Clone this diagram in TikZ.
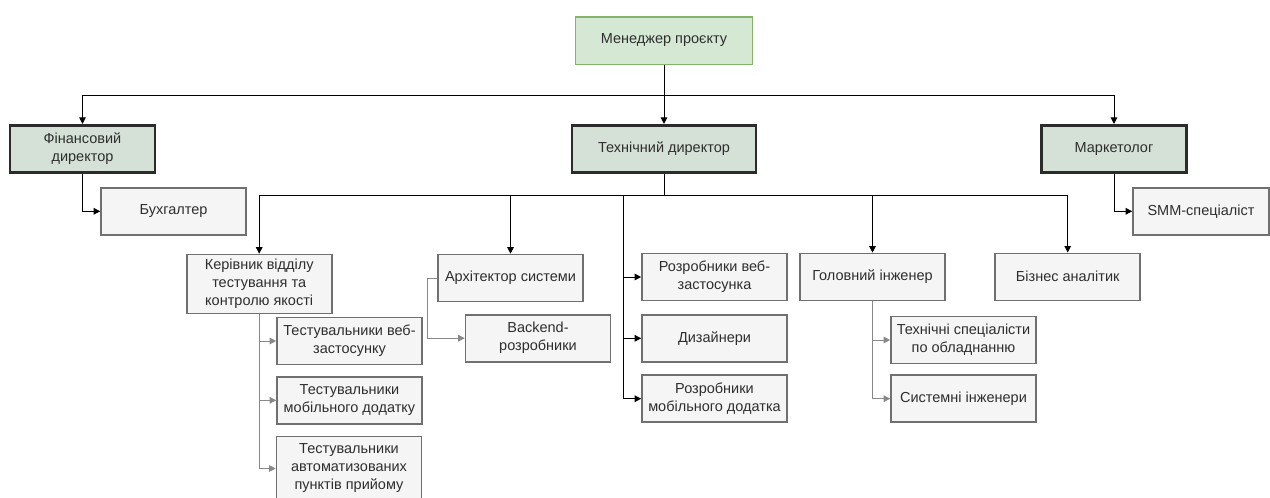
\documentclass[tikz,border=0pt]{standalone}
\usepackage{fontspec}
\setmainfont{Liberation Sans}
\usepackage{xcolor}
\usetikzlibrary{arrows.meta, positioning, calc}

\definecolor{pmfill}{HTML}{D5E8D4}
\definecolor{pmline}{HTML}{82B366}
\definecolor{chieffill}{HTML}{D5E0D6}
\definecolor{chiefline}{HTML}{2B2B2B}
\definecolor{stafffill}{HTML}{F5F5F5}
\definecolor{staffline}{HTML}{707070}
\definecolor{txt}{HTML}{2E2E2E}
\definecolor{subgray}{HTML}{888888}

\begin{document}
\begin{tikzpicture}[x=1pt, y=-1pt, >={Triangle[length=6.5pt, width=6.5pt]},
    font=\fontsize{14.5}{18}\selectfont, text=txt,
    pmbox/.style={draw=pmline, fill=pmfill, line width=1.5pt, minimum width=177pt, minimum height=47.5pt, inner sep=0pt, align=center},
    chief/.style={draw=chiefline, fill=chieffill, line width=2.6pt, minimum width=145pt, minimum height=47.5pt, inner sep=0pt, align=center},
    staff/.style={draw=staffline, fill=stafffill, line width=1.6pt, minimum width=145pt, minimum height=47pt, inner sep=0pt, align=center},
    link/.style={black, line width=1pt},
    sublink/.style={subgray, line width=1pt}]
      \useasboundingbox (0, 0) rectangle (1270, 498);

      % PROJECT MANAGER
      \node[pmbox] (pm) at (664, 40.5) {Менеджер проєкту};
      \coordinate (top) at (664, 95.3);

      % DIRECTORS
      \node[chief] (fin) at (82.5, 149) {Фінансовий\\директор};
      \node[chief, minimum width=184pt] (tech) at (664, 149) {Технічний директор};
      \node[chief] (mkt) at (1114, 149) {Маркетолог};

      \draw[link] (pm.south) -- (top);
      \draw[link, ->] (top) -| (fin.north);
      \draw[link, ->] (top) -- (tech.north);
      \draw[link, ->] (top) -| (mkt.north);

      % Finance.
      \node[staff] (acc) at (173.5, 211.3) {Бухгалтер};
      \draw[link, ->] (fin.south) |- (acc.west);

      % Marketing.
      \node[staff, minimum width=136pt] (smm) at (1201, 211.3) {SMM-спеціаліст};
      \draw[link, ->] (mkt.south) |- (smm.west);

      % TECHNICAL DEPARTMENT
      \coordinate (mid) at (664, 195);
      \coordinate (dev) at (623.7, 398.5);
      \draw[link] (tech.south) -- (mid);

      % Quality control.
      \node[staff, minimum height=59pt] (qa) at (259.2, 284) {Керівник відділу\\тестування та\\контролю якості};
      \node[staff] (qaweb) at (349.5, 341) {Тестувальники веб-\\застосунку};
      \node[staff] (qamob) at (349.5, 400.3) {Тестувальники\\мобільного додатку};
      \node[staff, minimum height=64pt] (qaauto) at (349, 468.5) {Тестувальники\\автоматизованих\\пунктів прийому};
      \draw[link, ->] (mid) -| (qa.north);
      \draw[sublink, ->] (qa.south) |- (qaweb.west);
      \draw[sublink, ->] (qa.south) |- (qamob.west);
      \draw[sublink, ->] (qa.south) |- (qaauto.west);

      % Architecture.
      \node[staff] (arch) at (510.5, 278) {Архітектор системи};
      \node[staff] (back) at (538, 338.2) {Backend-\\розробники};
      \draw[link, ->] (mid) -| (arch.north);
      \draw[sublink, ->] (arch.west) -- ++(-9.4, 0) |- (back.west);

      % Developers.
      \node[staff] (devweb) at (714.5, 277) {Розробники веб-\\застосунка};
      \node[staff] (design) at (714.5, 338.3) {Дизайнери};
      \node[staff] (devmob) at (714.5, 398.7) {Розробники\\мобільного додатка};
      \draw[link] (mid) -| (dev);
      \draw[link, ->] (dev |- devweb.west) -- (devweb.west);
      \draw[link, ->] (dev |- design.west) -- (design.west);
      \draw[link, ->] (dev |- devmob.west) -- (devmob.west);

      % Engineering.
      \node[staff] (eng) at (872.5, 277) {Головний інженер};
      \node[staff] (spec) at (963.5, 340) {Технічні спеціалісти\\по обладнанню};
      \node[staff] (syseng) at (963.5, 398.7) {Системні інженери};
      \draw[link, ->] (mid) -| (eng.north);
      \draw[sublink, ->] (eng.south) |- (spec.west);
      \draw[sublink, ->] (eng.south) |- (syseng.west);

      % Business analysis.
      \node[staff] (ba) at (1067.7, 276.8) {Бізнес аналітик};
      \draw[link, ->] (mid) -| (ba.north);
\end{tikzpicture}
\end{document}
